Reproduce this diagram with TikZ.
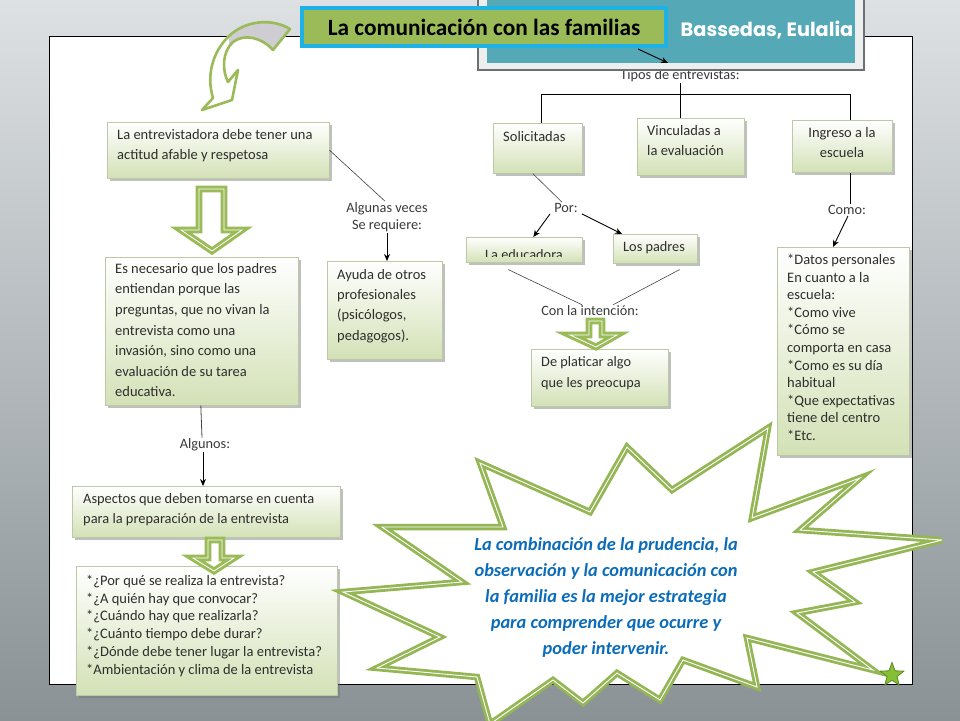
\documentclass[tikz,border=0pt]{standalone}
\usepackage{fontspec}
\setmainfont{Carlito}
\newfontfamily\popfont{Poppins}
\usetikzlibrary{shadows,shapes.geometric,arrows.meta,calc}
\definecolor{olive}{HTML}{9BBB59}
\definecolor{burstgreen}{HTML}{94B655}
\definecolor{boxgreen}{HTML}{D3E1B6}
\definecolor{boxline}{HTML}{BCC8A6}
\definecolor{txtgray}{HTML}{2E2E2E}
\definecolor{lblgray}{HTML}{3A3A3A}
\definecolor{linegray}{HTML}{444444}
\definecolor{tealh}{HTML}{55A9B7}
\definecolor{cyanb}{HTML}{1EB1E6}
\definecolor{framefill}{HTML}{EDEFEF}
\definecolor{framegray}{HTML}{6A7074}
\definecolor{msgblue}{HTML}{0B6CB9}
\definecolor{bgtop}{HTML}{DDE1E3}
\definecolor{bgbot}{HTML}{8A9296}
\definecolor{tailgray}{HTML}{CDCDD2}
\definecolor{starfill}{HTML}{86BF35}
\definecolor{starline}{HTML}{5C8A22}
\tikzset{
  gbox/.style={draw=boxline, line width=0.6pt, top color=white, bottom color=boxgreen,
    drop shadow={shadow xshift=2.5pt, shadow yshift=-2.5pt, opacity=0.45, fill=black!55},
    inner sep=0pt, anchor=north west},
  btxt/.style={anchor=north west, inner sep=0pt, align=left, text=txtgray},
  lbl/.style={inner sep=1pt, font=\fontsize{14.3}{17}\selectfont, text=lblgray, align=center},
  conn/.style={draw=linegray, line width=0.6pt},
  arr/.style={draw=black, line width=0.9pt, -{Stealth[length=7pt,width=6pt]}},
  garrow/.style={draw=olive, line width=3pt, double=white, double distance=0.8pt, fill=white, line join=miter},
  burst/.style={draw=burstgreen, line width=2.8pt, double=white, double distance=0.9pt, fill=white, line join=miter, miter limit=6},
}
\begin{document}
\begin{tikzpicture}[x=1pt,y=-1pt]
\useasboundingbox (0,0) rectangle (960,720);
\begin{scope}
\clip (0,0) rectangle (960,720);
% background
\fill[top color=bgtop, bottom color=bgbot] (0,0) rectangle (960,720);
% white sheet
\draw[black, line width=0.8pt, fill=white] (49,36) rectangle (912,684);

% label under header
\node[lbl] (tipos) at (680,76) {Tipos de entrevistas:};

% header frame
\fill[framefill, draw=framegray, line width=1.2pt] (478,-5) rectangle (864,70);
\fill[tealh] (487,-5) rectangle (855,63);
\node[text=white, font=\popfont\bfseries\fontsize{19.3}{21}\selectfont] (auth) at (767,30) {Bassedas, Eulalia};

% title
\node[draw=cyanb, line width=4pt, fill=olive, minimum width=364pt, minimum height=38pt, inner sep=0pt,
  font=\bfseries\fontsize{23.3}{26}\selectfont, text=black,
  drop shadow={shadow xshift=2pt, shadow yshift=-2pt, opacity=0.4, fill=black!60}] (title) at (484,27) {La comunicación con las familias};
\coordinate (tipA) at (668,63);
\draw[arr] ($(title.south east)+(-30,1)$) -- (tipA);

% curved arrow
\path[fill=white] (290,29) .. controls (272,18) and (245,20) .. (228,37) .. controls (213,52) and (206,75) .. (213,98) -- (202,110) -- (232,100) -- (238,70) -- (228,82) .. controls (222,70) and (222,52) .. (233,42) .. controls (245,33) and (262,38) .. (273,50) -- cycle;
\begin{scope}
\clip (290,29) .. controls (272,18) and (245,20) .. (228,37) .. controls (213,52) and (206,75) .. (213,98) -- (202,110) -- (232,100) -- (238,70) -- (228,82) .. controls (222,70) and (222,52) .. (233,42) .. controls (245,33) and (262,38) .. (273,50) -- cycle;
\fill[tailgray] (229,0) rectangle (300,56);
\end{scope}
\draw[olive, line width=2.6pt, line join=round] (290,29) .. controls (272,18) and (245,20) .. (228,37) .. controls (213,52) and (206,75) .. (213,98) -- (202,110) -- (232,100) -- (238,70) -- (228,82) .. controls (222,70) and (222,52) .. (233,42) .. controls (245,33) and (262,38) .. (273,50) -- cycle;

% boxes
\node[gbox, minimum width=222pt, minimum height=56pt] (ent) at (107,122) {};
\node[gbox, minimum width=89pt, minimum height=50pt] (sol) at (493,123) {};
\node[gbox, minimum width=107pt, minimum height=57pt] (vinc) at (637,118) {};
\node[gbox, minimum width=100pt, minimum height=52pt] (ing) at (792,120) {};
\node[gbox, minimum width=193pt, minimum height=148pt] (nec) at (105,257) {};
\node[gbox, minimum width=115pt, minimum height=98pt] (ayu) at (327,261) {};
\node[gbox, minimum width=116pt, minimum height=25pt] (edu) at (466,237) {};
\node[gbox, minimum width=84pt, minimum height=29pt] (pad) at (613,234) {};
\node[gbox, minimum width=137pt, minimum height=57pt] (plat) at (531,349) {};
\node[gbox, minimum width=132pt, minimum height=208pt] (dat) at (777,247) {};
\node[gbox, minimum width=268pt, minimum height=51pt] (asp) at (72,486) {};
\node[gbox, minimum width=261pt, minimum height=129pt] (porq) at (76,566) {};

% box texts
\node[btxt, font=\fontsize{14.5}{20.6}\selectfont] (entT) at (117,129) {La entrevistadora debe tener una\\actitud afable y respetosa};
\node[btxt, font=\fontsize{14.5}{20.6}\selectfont] (solT) at (503,131) {Solicitadas};
\node[btxt, font=\fontsize{14.5}{20.6}\selectfont] (vincT) at (647,125) {Vinculadas a\\la evaluación};
\node[btxt, anchor=north, align=center, font=\fontsize{14.5}{20.2}\selectfont] (ingT) at (842,127) {Ingreso a la\\escuela};
\node[btxt, font=\fontsize{14.5}{20.6}\selectfont] (necT) at (115,263) {Es necesario que los padres\\entiendan porque las\\preguntas, que no vivan la\\entrevista como una\\invasión, sino como una\\evaluación de su tarea\\educativa.};
\node[btxt, font=\fontsize{14.5}{20.3}\selectfont] (ayuT) at (337,269) {Ayuda de otros\\profesionales\\(psicólogos,\\pedagogos).};
\begin{scope}
\clip (466,237) rectangle (582,256);
\node[btxt, font=\fontsize{14.3}{20}\selectfont] (eduT) at (485,249.5) {La educadora};
\end{scope}
\node[btxt, font=\fontsize{14.3}{20}\selectfont] (padT) at (623,241) {Los padres};
\node[btxt, font=\fontsize{14.3}{21}\selectfont] (platT) at (541,356) {De platicar algo\\que les preocupa};
\node[btxt, font=\fontsize{14.5}{17.6}\selectfont] (datT) at (787,254) {*Datos personales\\En cuanto a la\\escuela:\\*Como vive\\*Cómo se\\comporta en casa\\*Como es su día\\habitual\\*Que expectativas\\tiene del centro\\*Etc.};
\node[btxt, font=\fontsize{14.4}{20}\selectfont] (aspT) at (83,493) {Aspectos que deben tomarse en cuenta\\para la preparación de la entrevista};
\node[btxt, font=\fontsize{14.5}{17.7}\selectfont] (porqT) at (86,575) {*¿Por qué se realiza la entrevista?\\*¿A quién hay que convocar?\\*¿Cuándo hay que realizarla?\\*¿Cuánto tiempo debe durar?\\*¿Dónde debe tener lugar la entrevista?\\*Ambientación y clima de la entrevista};

% labels
\node[lbl] (alg) at (387,217) {Algunas veces\\Se requiere:};
\node[lbl] (algunos) at (205,445) {Algunos:};
\node[lbl] (por) at (566,208) {Por:};
\node[lbl] (con) at (590,311) {Con la intención:};
\node[lbl] (como) at (847,210) {Como:};

% tree
\coordinate (bl) at (541,94);
\coordinate (br) at (850,94);
\draw[black, line width=0.8pt] (tipos.south) -- (tipos.south |- vinc.north);
\draw[black, line width=0.8pt] (bl |- sol.north) -- (bl) -- (br) -- (br |- ing.north);
\draw[black, line width=0.8pt] (br |- ing.south) -- (br |- como.north);
\draw[arr] ([xshift=1pt]como.south) -- ([xshift=56pt]dat.north west);

% left connectors
\draw[conn] (ent.east) -- ([xshift=-2pt]alg.north);
\draw[arr] (alg.south) -- (alg.south |- ayu.north);
\draw[conn, line width=0.8pt] ([xshift=-1pt]nec.south) -- ([xshift=-3pt]algunos.north);
\draw[arr] ([xshift=-2pt]algunos.south) -- ([xshift=-2pt]algunos.south |- asp.north);

% middle connectors
\draw[conn] ([xshift=-5pt]sol.south) -- ([xshift=-4pt]por.north);
\draw[arr] ([xshift=-3pt]por.south west) -- ([xshift=9pt]edu.north);
\draw[arr] ([xshift=3pt]por.south east) -- ([xshift=9pt]pad.north west);
\draw[conn] ([xshift=-16pt,yshift=-7pt]edu.south) -- ([xshift=-8pt]con.north);
\draw[conn] ([xshift=-18pt,yshift=-6pt]pad.south east) -- ([xshift=23pt]con.north);

% green block arrows
\draw[garrow] (199,189) -- (224,189) -- (224,230) -- (242,230) -- (212,251) -- (181,230) -- (199,230) -- cycle;
\draw[garrow] (208,540) -- (222,540) -- (222,558) -- (234,558) -- (214,571) -- (193,558) -- (208,558) -- cycle;
\draw[garrow] (589,321) -- (602,321) -- (602,335) -- (617,335) -- (596,347) -- (570,335) -- (589,335) -- cycle;

% starburst
\draw[burst] (480,463) -- (590,512) -- (627,447) -- (672,490) -- (768,428) -- (752,518) -- (860,478) -- (800,530) -- (942,540) -- (813,572) -- (855,602) -- (797,613) -- (873,670) -- (747,638) -- (757,687) -- (683,660) -- (660,700) -- (617,673) -- (583,703) -- (553,680) -- (490,724) -- (477,677) -- (377,668) -- (440,637) -- (343,592) -- (462,582) -- (382,527) -- (503,527) -- cycle;
\node[align=center, text=msgblue, font=\bfseries\itshape\fontsize{18.4}{26}\selectfont] (msg) at (606,597) {La combinación de la prudencia, la\\observación y la comunicación con\\la familia es la mejor estrategia\\para comprender que ocurre y\\poder intervenir.};

% small star
\node[star, star points=5, star point ratio=2.4, fill=starfill, draw=starline, line width=0.8pt, minimum size=25pt, inner sep=0pt] (mark) at (892,675) {};
\end{scope}
\end{tikzpicture}
\end{document}
